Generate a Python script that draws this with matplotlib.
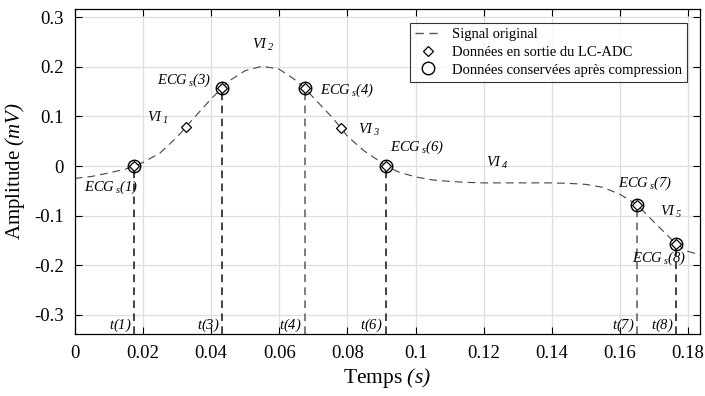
import matplotlib
matplotlib.use("Agg")
import matplotlib.pyplot as plt
from matplotlib.lines import Line2D

# ---- data ----
signal_t = [0.000, 0.005, 0.010, 0.015, 0.0175, 0.020, 0.025, 0.030, 0.0326, 0.035,
            0.040, 0.0432, 0.045, 0.050, 0.055, 0.060, 0.065, 0.0675, 0.070, 0.075,
            0.078, 0.080, 0.085, 0.090, 0.0913, 0.095, 0.100, 0.105, 0.110, 0.115,
            0.120, 0.130, 0.140, 0.145, 0.150, 0.155, 0.160, 0.165, 0.170, 0.1765,
            0.180, 0.1835]
signal_v = [-0.025, -0.021, -0.014, -0.006, 0.000, 0.007, 0.026, 0.058, 0.078, 0.097,
            0.135, 0.157, 0.170, 0.192, 0.201, 0.195, 0.172, 0.157, 0.138, 0.102,
            0.078, 0.060, 0.030, 0.007, 0.000, -0.012, -0.022, -0.028, -0.031, -0.033,
            -0.034, -0.034, -0.034, -0.035, -0.037, -0.043, -0.057, -0.078, -0.113, -0.157,
            -0.172, -0.179]

lcadc_t = [0.0175, 0.0326, 0.0432, 0.0675, 0.0781, 0.0913, 0.165, 0.1765]
lcadc_v = [0.000, 0.078, 0.157, 0.157, 0.077, 0.000, -0.078, -0.157]

kept_t = [0.0175, 0.0432, 0.0675, 0.0913, 0.165, 0.1765]
kept_v = [0.000, 0.157, 0.157, 0.000, -0.078, -0.157]
kept_idx = ["1", "3", "4", "6", "7", "8"]
vline_gray = [False, False, True, False, True, False]

ecg_label_pos = [(0.0106, -0.042, "center"), (0.0400, 0.172, "right"), (0.0720, 0.153, "left"),
                 (0.0925, 0.038, "left"), (0.1595, -0.034, "left"), (0.1636, -0.185, "left")]
vi_labels = ["1", "2", "3", "4", "5"]
vi_pos = [(0.0244, 0.097), (0.0552, 0.244), (0.0865, 0.073), (0.1240, 0.006), (0.1750, -0.092)]

xticks = [0, 0.02, 0.04, 0.06, 0.08, 0.1, 0.12, 0.14, 0.16, 0.18]
xticklabels = ["0", "0.02", "0.04", "0.06", "0.08", "0.1", "0.12", "0.14", "0.16", "0.18"]
yticks = [-0.3, -0.2, -0.1, 0, 0.1, 0.2, 0.3]
yticklabels = ["-0.3", "-0.2", "-0.1", "0", "0.1", "0.2", "0.3"]

# ---- style ----
FONT = "Liberation Serif"
plt.rcParams["font.family"] = [FONT, "DejaVu Serif"]
plt.rcParams["mathtext.fontset"] = "custom"
plt.rcParams["mathtext.rm"] = FONT + ":italic"
plt.rcParams["mathtext.it"] = FONT + ":italic"
plt.rcParams["mathtext.bf"] = FONT + ":bold"

fig = plt.figure(figsize=(7.05, 3.96), dpi=100)
ax = fig.add_axes([0.106, 0.157, 0.887, 0.820])

ax.set_xlim(0, 0.1835)
ax.set_ylim(-0.338, 0.316)

ax.grid(True, color="#dedede", linewidth=0.9)
ax.set_axisbelow(True)

ax.plot(signal_t, signal_v, color="#444444", linewidth=0.8, dashes=(7, 4.5))

for t, v, g in zip(kept_t, kept_v, vline_gray):
    ax.plot([t, t], [-0.338, v], color="#5a5a5a" if g else "#111111",
            linewidth=1.1, dashes=(5, 3.5))

ax.plot(lcadc_t, lcadc_v, linestyle="none", marker="D", markersize=5.0,
        markerfacecolor="white", markeredgecolor="black", markeredgewidth=0.9)
ax.plot(kept_t, kept_v, linestyle="none", marker="o", markersize=9,
        markerfacecolor="none", markeredgecolor="black", markeredgewidth=1.0)

afs = 10.5
for (x, y, ha), k in zip(ecg_label_pos, kept_idx):
    ax.text(x, y, r"$ECG\,_s(%s)$" % k, fontsize=afs, ha=ha, va="center")
for (x, y), k in zip(vi_pos, vi_labels):
    ax.text(x, y, r"$VI\,_%s$" % k, fontsize=afs, ha="center", va="center")
for t, k in zip(kept_t, kept_idx):
    ax.text(t - 0.0008, -0.320, r"$t(%s)$" % k, fontsize=afs, ha="right", va="center")

ax.set_xticks(xticks)
ax.set_xticklabels(xticklabels)
ax.set_yticks(yticks)
ax.set_yticklabels(yticklabels)
ax.tick_params(direction="in", top=True, right=True, labelsize=13.5, length=5, width=0.8, pad=8)
for s in ax.spines.values():
    s.set_linewidth(0.9)

ax.set_xlabel(r"Temps $(s)$", fontsize=15.5, labelpad=3)
ax.set_ylabel(r"Amplitude $(mV)$", fontsize=15, labelpad=5)

handles = [
    Line2D([], [], color="#555555", linewidth=1.0, dashes=(6, 4)),
    Line2D([], [], linestyle="none", marker="D", markersize=5, markerfacecolor="white",
           markeredgecolor="black", markeredgewidth=0.9),
    Line2D([], [], linestyle="none", marker="o", markersize=9, markerfacecolor="none",
           markeredgecolor="black", markeredgewidth=1.0),
]
labels = ["Signal original", "Données en sortie du LC-ADC", "Données conservées après compression"]
leg = ax.legend(handles, labels, loc="upper right", bbox_to_anchor=(0.979, 0.957),
                borderaxespad=0, fontsize=10.5, frameon=True, fancybox=False,
                handlelength=1.8, handletextpad=0.7, labelspacing=0.3, borderpad=0.35)
leg.get_frame().set_edgecolor("black")
leg.get_frame().set_linewidth(0.8)

fig.savefig("out.png", dpi=100)
